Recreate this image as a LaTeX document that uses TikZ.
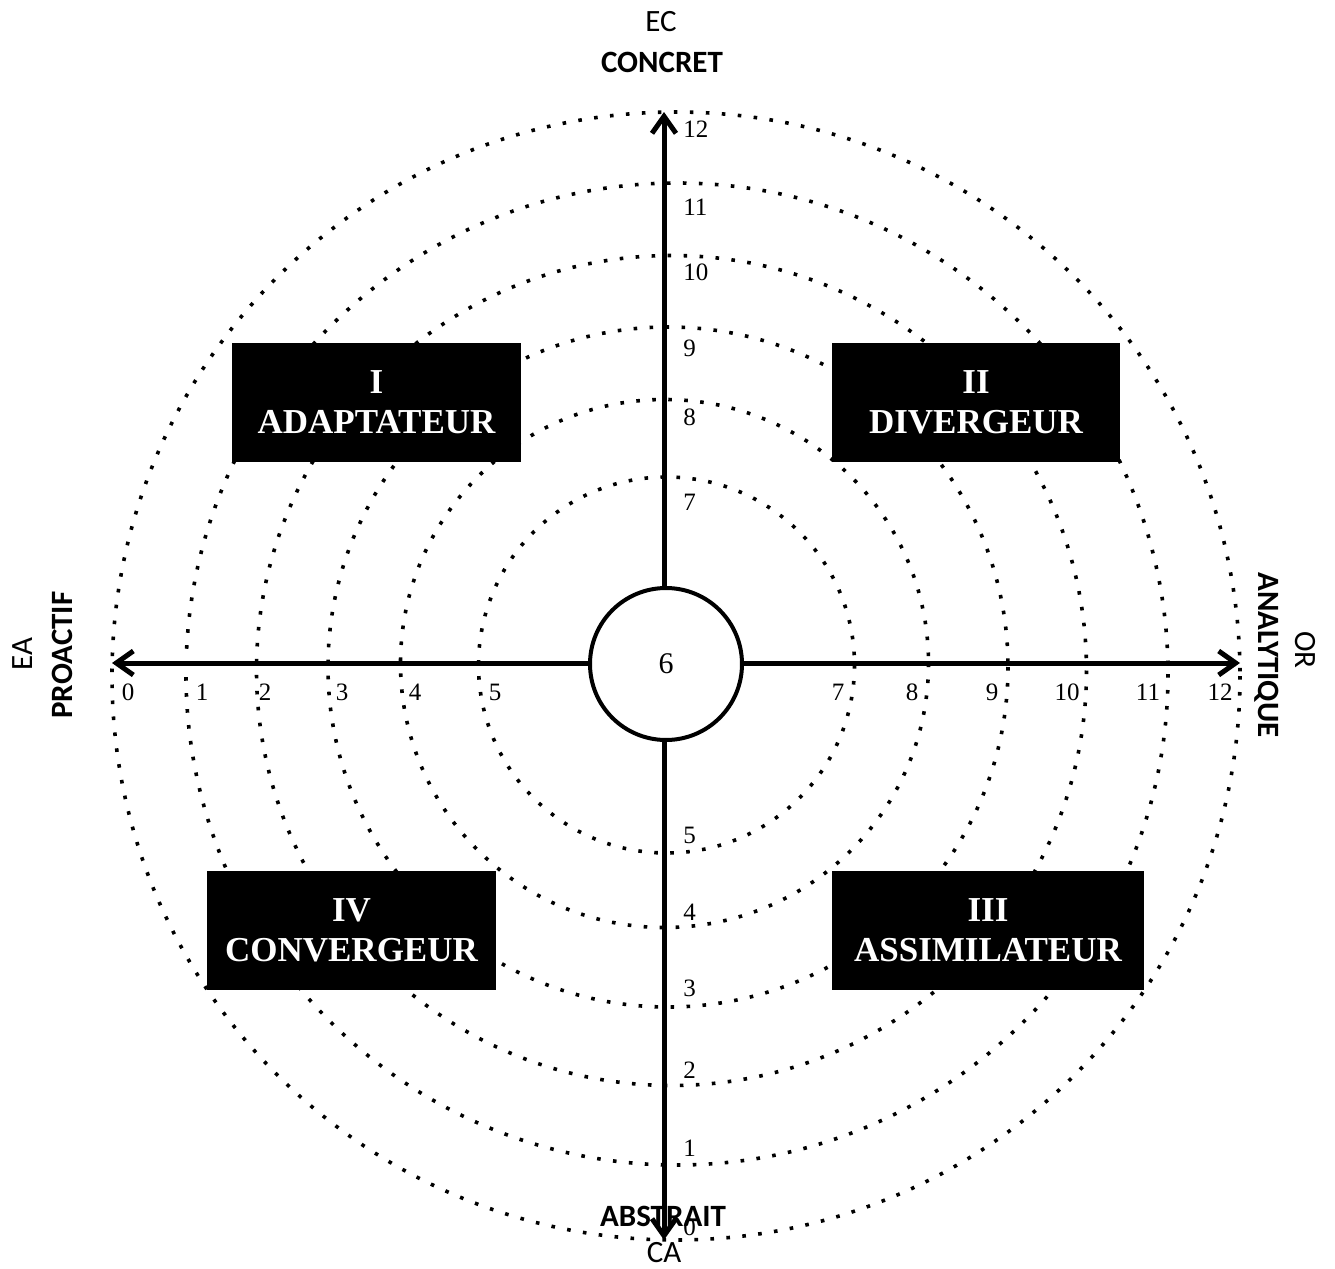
\documentclass[tikz,border=0pt]{standalone}
\usepackage{fontspec}
\setmainfont{Liberation Serif}
\newfontfamily\calibri{Carlito}
\usetikzlibrary{arrows.meta}
\tikzset{my arrow/.style={
  black,
  line width=2.5pt,
  {Straight Barb[length=8.5pt,width=12pt]}-{Straight Barb[length=8.5pt,width=12pt]}
  }
}
\tikzset{my ring/.style={line width=1.8pt, dash pattern=on 1.8pt off 6.2pt}}
\tikzset{my box/.style={fill=black, text=white, align=center, inner sep=0pt,
  minimum height=59.5pt, font=\fontsize{17.5}{20}\selectfont\bfseries}}
\tikzset{my num/.style={inner sep=0pt, font=\fontsize{12.5}{14}\selectfont}}
\tikzset{my pole/.style={inner sep=0pt, font=\calibri\fontsize{15.5}{18}\selectfont}}

\begin{document}
\begin{tikzpicture}[x=0.5pt,y=-0.5pt]
    \useasboundingbox (0,0) rectangle (1335,1269);

    \foreach \cx/\cy/\r in {666.5/665/188,664.5/663.5/264,668/667/340,671.5/670.5/415,677/674/491,676/676/564}
        \draw[my ring] (\cx,\cy) circle[radius=\r];

    \coordinate (N) at (664,112);
    \coordinate (S) at (664,1240);
    \coordinate (W) at (112,663);
    \coordinate (E) at (1240,663);

    \draw[my arrow] (S) to (N);
    \draw[my arrow] (W) to (E);

    \node[draw,circle,fill=white,line width=2pt,minimum size=76pt,inner sep=0pt,font=\fontsize{15}{18}\selectfont] (hub) at (666,664) {6};

    \foreach \i/\y in {12/129,11/207,10/272,9/348,8/417,7/502,5/835,4/912,3/988,2/1070,1/1148,0/1227}
        \node[my num,anchor=west] (V\i) at (683,\y) {\i};

    \foreach \i/\x in {0/128,1/202,2/265,3/342,4/415,5/495,7/838,8/912,9/992,10/1067,11/1148,12/1220}
        \node[my num] (H\i) at (\x,692) {\i};

    \node[my box,minimum width=144.5pt] (Q1) at (376.5,402.5) {I\\ADAPTATEUR};
    \node[my box,minimum width=144pt] (Q2) at (976,402.5) {II\\DIVERGEUR};
    \node[my box,minimum width=156pt] (Q3) at (988,930.5) {III\\ASSIMILATEUR};
    \node[my box,minimum width=144.5pt] (Q4) at (351.5,930.5) {IV\\CONVERGEUR};

    \node[my pole] (EC) at (661,22) {EC};
    \node[my pole] (concret) at (662,62) {\bfseries CONCRET};
    \node[my pole] (abstrait) at (663,1216) {\bfseries ABSTRAIT};
    \node[my pole] (CA) at (664,1253) {CA};
    \node[my pole,rotate=90] (EA) at (23,654) {EA};
    \node[my pole,rotate=90] (proactif) at (62,655) {\bfseries PROACTIF};
    \node[my pole,rotate=-90] (analytique) at (1267,655) {\bfseries ANALYTIQUE};
    \node[my pole,rotate=-90] (OR) at (1305,650) {OR};

\end{tikzpicture}
\end{document}
